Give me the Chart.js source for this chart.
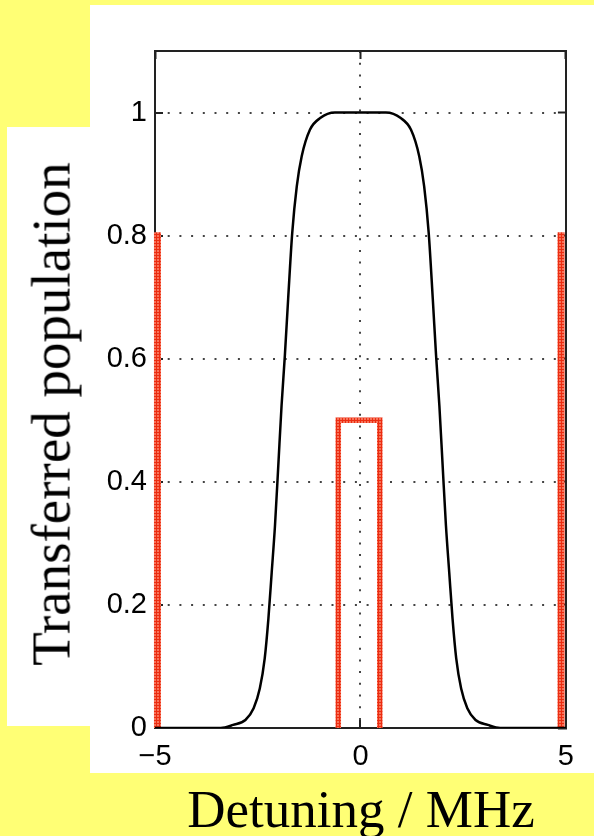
<!DOCTYPE html>
<html>
<head>
<meta charset="utf-8">
<script src="https://cdn.jsdelivr.net/npm/chart.js@4.4.1/dist/chart.umd.min.js"></script>
<style>
  body { margin: 0; background: #ffff75; }
  #wrap { position: relative; width: 594px; height: 836px; overflow: hidden; }
  .panel { position: absolute; background: #fff; }
  #c { position: absolute; left: 0; top: 0; }
  #ytitle {
    position: absolute; left: 51px; top: 414px;
    font-family: "Liberation Serif", serif; font-size: 55px; line-height: 1;
    white-space: nowrap; transform: translate(-50%, -50%) rotate(-90deg);
  }
  #xtitle {
    position: absolute; left: 361px; top: 783px;
    font-family: "Liberation Serif", serif; font-size: 53px; line-height: 1;
    white-space: nowrap; transform: translateX(-50%);
  }
</style>
</head>
<body>
<div id="wrap">
  <div class="panel" style="left:90px;top:5px;width:504px;height:768px"></div>
  <div class="panel" style="left:7px;top:127px;width:83px;height:599px"></div>
  <canvas id="c" width="594" height="836"></canvas>
  <div id="ytitle">Transferred population</div>
  <div id="xtitle">Detuning / MHz</div>
</div>
<script>
// transferred population vs detuning (black curve)
const detuning = [-5, -4, -3.4, -3.1, -2.8, -2.6, -2.45, -2.33, -2.24, -2.16, -2.08, -2.0, -1.92, -1.84, -1.76, -1.66, -1.55, -1.43, -1.23, -0.98, -0.62,
  0,
  0.62, 0.98, 1.23, 1.43, 1.55, 1.66, 1.76, 1.84, 1.92, 2.0, 2.08, 2.16, 2.24, 2.33, 2.45, 2.6, 2.8, 3.1, 3.4, 4, 5];
const transferred = [0, 0, 0, 0.005, 0.013, 0.032, 0.064, 0.113, 0.178, 0.253, 0.329, 0.426, 0.524, 0.605, 0.697, 0.805, 0.880, 0.929, 0.972, 0.991, 1.0,
  1.0,
  1.0, 0.991, 0.972, 0.929, 0.880, 0.805, 0.697, 0.605, 0.524, 0.426, 0.329, 0.253, 0.178, 0.113, 0.064, 0.032, 0.013, 0.005, 0, 0, 0];

// red spectrum: two side bars and the central rectangle (null = gap)
const sideX = [-4.94, -4.94, 0, 4.88, 4.88];
const sideY = [0, 0.8, null, 0.8, 0];
const pulseX = [-0.54, -0.54, 0.47, 0.47];
const pulseY = [0, 0.5, 0.5, 0];

const xTicks = [-5, 0, 5];
const xTickLabels = ["\u22125", "0", "5"];
const yTicks = [0, 0.2, 0.4, 0.6, 0.8, 1];
const yTickLabels = ["0", "0.2", "0.4", "0.6", "0.8", "1"];

const canvas = document.getElementById("c");
const ctx = canvas.getContext("2d");

// hatched red stroke like the original
const tile = document.createElement("canvas");
tile.width = 3; tile.height = 3;
const t = tile.getContext("2d");
t.fillStyle = "#f7735a"; t.fillRect(0, 0, 3, 3);
t.fillStyle = "#ec2c10"; t.fillRect(0, 0, 3, 1); t.fillRect(0, 0, 1, 3);
const redHatch = ctx.createPattern(tile, "repeat");

const tickFont = { family: "Liberation Sans", size: 29 };
const axisColor = "#222";
const gridColor = "#444";

const xTicksFrom = s => { s.ticks = xTicks.map(v => ({ value: v })); };
const yTicksFrom = s => { s.ticks = yTicks.map(v => ({ value: v })); };
const toPoints = (xs, ys) => xs.map((x, i) => ({ x: x, y: ys[i] }));

new Chart(ctx, {
  type: "scatter",
  data: {
    datasets: [{
      data: toPoints(detuning, transferred),
      showLine: true,
      borderColor: "#000",
      borderWidth: 2.5,
      pointRadius: 0,
      cubicInterpolationMode: "monotone"
    }, {
      data: toPoints(sideX, sideY),
      showLine: true,
      spanGaps: false,
      borderColor: redHatch,
      borderWidth: 7,
      borderCapStyle: "square",
      pointRadius: 0,
      tension: 0,
      clip: { left: 5, right: 5, top: 5, bottom: 0 }
    }, {
      data: toPoints(pulseX, pulseY),
      showLine: true,
      borderColor: redHatch,
      borderWidth: 5.5,
      borderJoinStyle: "miter",
      pointRadius: 0,
      tension: 0,
      clip: { left: 5, right: 5, top: 5, bottom: 0 }
    }]
  },
  options: {
    responsive: false,
    animation: false,
    devicePixelRatio: 1,
    layout: { padding: { left: 0, top: 51, right: 25, bottom: 0 } },
    plugins: { legend: { display: false }, tooltip: { enabled: false } },
    scales: {
      x: {
        type: "linear", position: "bottom", min: -5, max: 5,
        afterBuildTicks: xTicksFrom,
        afterFit: s => { s.height = 108; },
        ticks: { font: tickFont, color: "#000", padding: 20, maxRotation: 0,
                 callback: (v, i) => xTickLabels[i] },
        grid: { color: gridColor, lineWidth: 2, tickLength: -8, tickColor: axisColor, tickWidth: 2 },
        border: { color: axisColor, width: 2, dash: [2, 9.7] }
      },
      x2: {
        type: "linear", position: "top", min: -5, max: 5,
        afterBuildTicks: xTicksFrom,
        afterFit: s => { s.height = 0; },
        ticks: { display: false },
        grid: { drawOnChartArea: false, tickLength: -8, tickColor: axisColor, tickWidth: 2 },
        border: { color: axisColor, width: 2 }
      },
      y: {
        type: "linear", position: "left", min: 0, max: 1.1,
        afterBuildTicks: yTicksFrom,
        afterFit: s => { s.width = 155; },
        ticks: { font: tickFont, color: "#000", padding: 16,
                 callback: (v, i) => yTickLabels[i] },
        grid: { color: gridColor, lineWidth: 2, tickLength: -8, tickColor: axisColor, tickWidth: 2 },
        border: { color: axisColor, width: 2, dash: [2, 9.7] }
      },
      y2: {
        type: "linear", position: "right", min: 0, max: 1.1,
        afterBuildTicks: yTicksFrom,
        afterFit: s => { s.width = 0; },
        ticks: { display: false },
        grid: { drawOnChartArea: false, tickLength: -8, tickColor: axisColor, tickWidth: 2 },
        border: { color: axisColor, width: 2 }
      }
    }
  }
});
</script>
</body>
</html>
